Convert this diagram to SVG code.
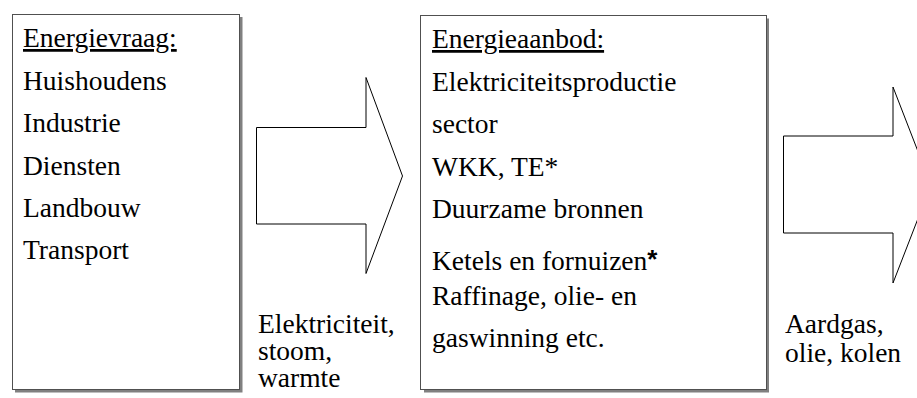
<svg xmlns="http://www.w3.org/2000/svg" width="917" height="398" viewBox="0 0 917 398">
<style>
.box{fill:#fff;stroke:#505050;stroke-width:1}
.shadow{fill:#808080}
.t{font-family:'Liberation Serif','Times New Roman',serif;font-size:27.5px;fill:#000}
.u{text-decoration:underline}
.arrow{fill:#fff;stroke:#000;stroke-width:1}
</style>
<rect width="917" height="398" fill="#fff"/>
<g id="energievraag">
<rect class="shadow" x="15" y="17" width="227.5" height="375.5"/>
<rect class="box" x="12.5" y="14.5" width="227" height="375"/>
<text class="t" x="23" y="47"><tspan class="u">Energievraag:</tspan></text>
<text class="t" x="23" y="90">Huishoudens</text>
<text class="t" x="23" y="132">Industrie</text>
<text class="t" x="23" y="174.5">Diensten</text>
<text class="t" x="23" y="216.5">Landbouw</text>
<text class="t" x="23" y="258.5">Transport</text>
</g>
<g id="energieaanbod">
<rect class="shadow" x="424" y="18.5" width="345" height="374"/>
<rect class="box" x="420.5" y="15.5" width="346" height="374"/>
<text class="t" x="432" y="48"><tspan class="u">Energieaanbod:</tspan></text>
<text class="t" x="432" y="91">Elektriciteitsproductie</text>
<text class="t" x="432" y="133">sector</text>
<text class="t" x="432" y="175.5">WKK, TE*</text>
<text class="t" x="432" y="218">Duurzame bronnen</text>
<text class="t" x="432" y="270">Ketels en fornuizen<tspan style="font-family:'Liberation Sans',Arial,sans-serif;font-weight:bold" font-size="26" dy="-2">*</tspan></text>
<text class="t" x="432" y="305">Raffinage, olie- en</text>
<text class="t" x="432" y="347">gaswinning etc.</text>
</g>
<g id="connectors">
<g id="arrow1">
<polygon class="arrow" points="256.5,127.5 366,127.5 366,77.5 402.5,176 366,273.5 366,224 256.5,224"/>
<text class="t" x="258" y="333">Elektriciteit,<tspan x="258" dy="27">stoom,</tspan><tspan x="258" dy="27">warmte</tspan></text>
</g>
<g id="arrow2">
<polygon class="arrow" points="783.5,136 893,136 893,87 931,185 893,283 893,233 783.5,233"/>
<text class="t" x="785" y="333">Aardgas,<tspan x="785" dy="29">olie, kolen</tspan></text>
</g>
</g>
</svg>
